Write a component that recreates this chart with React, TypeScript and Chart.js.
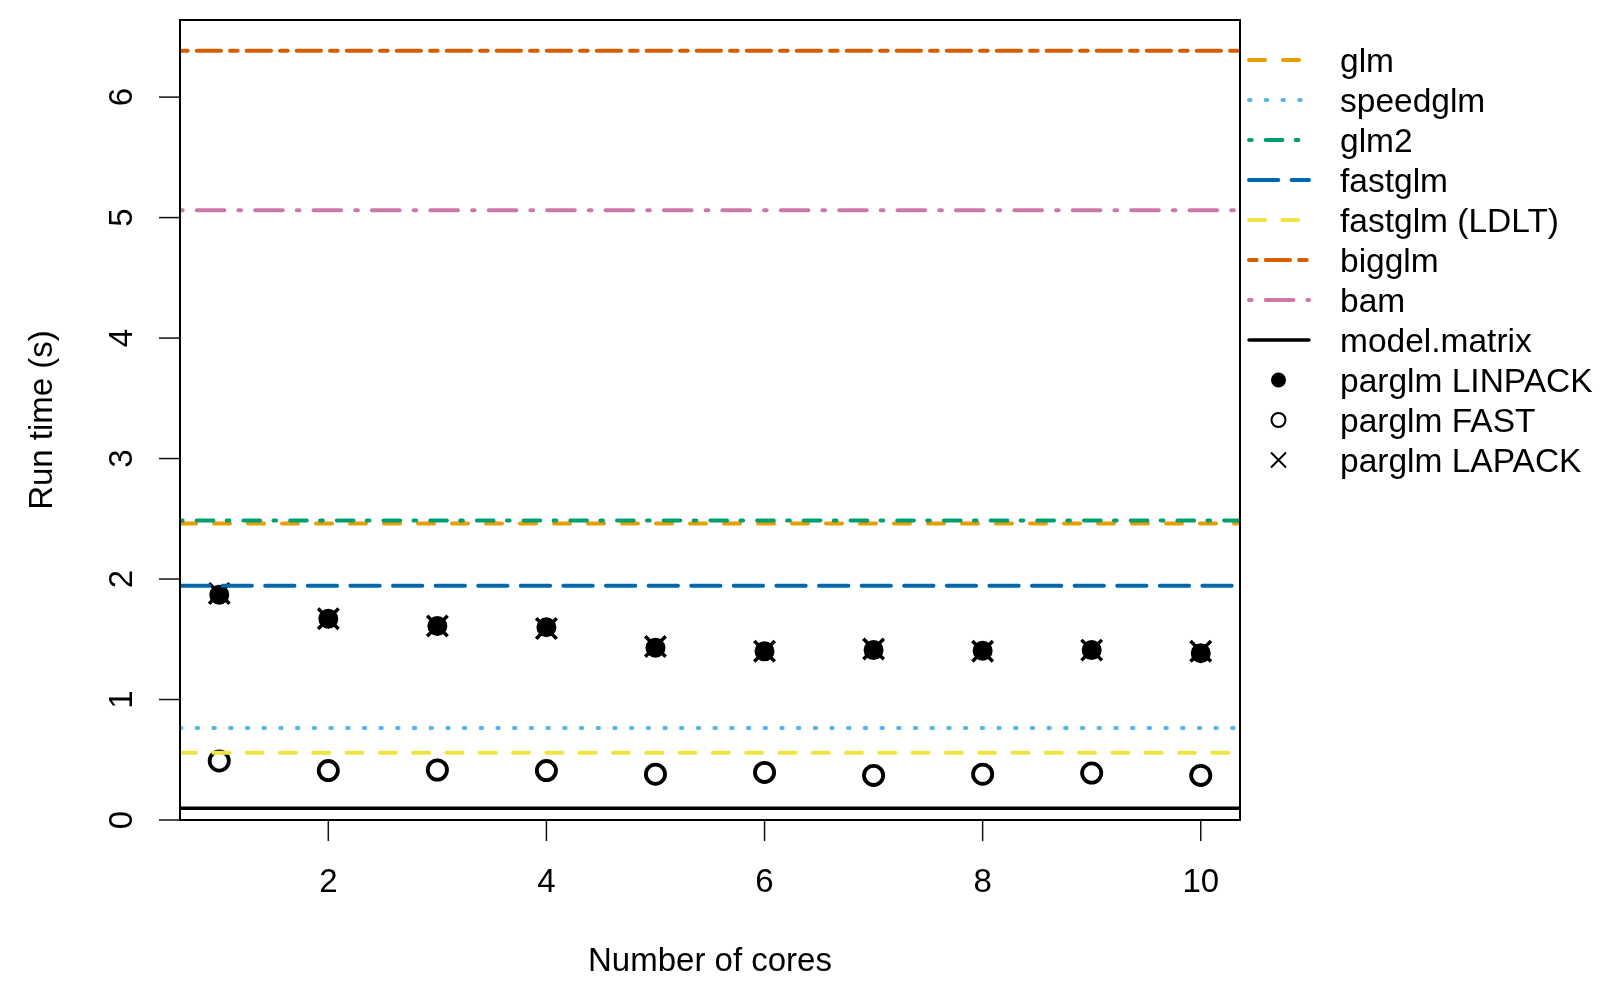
import React, { useEffect, useRef } from "react";
import { Chart, registerables } from "chart.js";

Chart.register(...registerables);

// ---------- data ----------
const cores = [1, 2, 3, 4, 5, 6, 7, 8, 9, 10];
const parglmLinpack = [1.87, 1.67, 1.61, 1.6, 1.43, 1.4, 1.41, 1.405, 1.41, 1.385];
const parglmLapack = [1.88, 1.67, 1.61, 1.59, 1.44, 1.4, 1.42, 1.4, 1.41, 1.4];
const parglmFast = [0.49, 0.41, 0.415, 0.41, 0.38, 0.395, 0.37, 0.38, 0.39, 0.37];

const refNames = ["glm", "speedglm", "glm2", "fastglm", "fastglm (LDLT)", "bigglm", "bam", "model.matrix"];
const refTimes = [2.46, 0.763, 2.486, 1.944, 0.559, 6.384, 5.06, 0.097];
const refColors = ["#E69F00", "#56B4E9", "#009E73", "#0068AC", "#F0E442", "#D55E00", "#CC79A7", "#000000"];
const refDashes: number[][] = [
  [16, 18],
  [1.5, 15.2],
  [2.7, 14, 16.7, 13.3],
  [29.3, 13.3],
  [16, 17.3],
  [7.7, 9, 24.3, 9],
  [2.7, 14, 27.7, 14],
  [],
];

const pointNames = ["parglm LINPACK", "parglm FAST", "parglm LAPACK"];

const xTicks = [2, 4, 6, 8, 10];
const yTicks = [0, 1, 2, 3, 4, 5, 6];
const xRange = [0.64, 10.36];
const yRange = [0, 6.64];
const xTitle = "Number of cores";
const yTitle = "Run time (s)";

const FONT = '"Liberation Sans", Arial, Helvetica, sans-serif';

export default function App() {
  const ref = useRef<HTMLCanvasElement | null>(null);

  useEffect(() => {
    const canvas = ref.current;
    if (!canvas) return;

    const lineSets = refNames.map((name, i) => ({
      type: "line" as const,
      label: name,
      data: [
        { x: xRange[0], y: refTimes[i] },
        { x: xRange[1], y: refTimes[i] },
      ],
      borderColor: refColors[i],
      borderWidth: i === 7 ? 3.5 : 4,
      borderDash: refDashes[i],
      borderCapStyle: "round" as const,
      pointRadius: 0,
      fill: false,
      order: 20 - i,
    }));

    const toPts = (arr: number[]) => cores.map((c, i) => ({ x: c, y: arr[i] }));

    const pointSets = [
      {
        type: "scatter" as const,
        label: pointNames[0],
        data: toPts(parglmLinpack),
        pointStyle: "circle",
        pointRadius: 9,
        pointBorderWidth: 2,
        pointBackgroundColor: "#000",
        pointBorderColor: "#000",
        showLine: false,
        order: 103,
      },
      {
        type: "scatter" as const,
        label: pointNames[1],
        data: toPts(parglmFast),
        pointStyle: "circle",
        pointRadius: 9.6,
        pointBorderWidth: 3.8,
        pointBackgroundColor: "rgba(0,0,0,0)",
        pointBorderColor: "#000",
        showLine: false,
        order: 102,
      },
      {
        type: "scatter" as const,
        label: pointNames[2],
        data: toPts(parglmLapack),
        pointStyle: "crossRot",
        pointRadius: 14.5,
        pointBorderWidth: 3.5,
        pointBackgroundColor: "#000",
        pointBorderColor: "#000",
        showLine: false,
        order: 101,
      },
    ];

    const decor = {
      id: "decor",
      afterDraw(chart: any) {
        const ctx = chart.ctx as CanvasRenderingContext2D;
        const { left, right, top, bottom } = chart.chartArea;
        const xs = chart.scales.x;
        const ys = chart.scales.y;
        ctx.save();
        // box
        ctx.setLineDash([]);
        ctx.strokeStyle = "#000";
        ctx.lineWidth = 2;
        ctx.strokeRect(left, top, right - left, bottom - top);
        // ticks
        ctx.lineWidth = 1.5;
        ctx.strokeStyle = "#111";
        xTicks.forEach((v) => {
          const px = xs.getPixelForValue(v);
          ctx.beginPath();
          ctx.moveTo(px, bottom);
          ctx.lineTo(px, bottom + 21);
          ctx.stroke();
        });
        yTicks.forEach((v) => {
          const py = ys.getPixelForValue(v);
          ctx.beginPath();
          ctx.moveTo(left, py);
          ctx.lineTo(left - 21, py);
          ctx.stroke();
        });
        // tick labels
        ctx.fillStyle = "#000";
        ctx.font = `33px ${FONT}`;
        ctx.textAlign = "center";
        ctx.textBaseline = "alphabetic";
        xTicks.forEach((v) => {
          ctx.fillText(String(v), xs.getPixelForValue(v), bottom + 72);
        });
        yTicks.forEach((v) => {
          ctx.save();
          ctx.translate(left - 48.5, ys.getPixelForValue(v));
          ctx.rotate(-Math.PI / 2);
          ctx.fillText(String(v), 0, 0);
          ctx.restore();
        });
        // titles
        ctx.fillText(xTitle, (left + right) / 2, bottom + 151);
        ctx.save();
        ctx.translate(left - 128.5, (top + bottom) / 2);
        ctx.rotate(-Math.PI / 2);
        ctx.fillText(yTitle, 0, 0);
        ctx.restore();

        // legend
        const lx0 = right + 9;
        const lx1 = right + 69;
        const symX = right + 38.5;
        const textX = right + 100;
        const rowY = (i: number) => top + 40 + 40 * i;
        ctx.font = `33.5px ${FONT}`;
        ctx.textAlign = "left";
        refNames.forEach((name, i) => {
          const y = rowY(i);
          ctx.save();
          ctx.strokeStyle = refColors[i];
          ctx.lineWidth = i === 7 ? 3.5 : 4;
          ctx.lineCap = "round";
          ctx.setLineDash(refDashes[i]);
          ctx.beginPath();
          ctx.moveTo(lx0, y);
          ctx.lineTo(lx1, y);
          ctx.stroke();
          ctx.restore();
          ctx.fillText(name, textX, y + 12);
        });
        pointNames.forEach((name, j) => {
          const i = refNames.length + j;
          const y = rowY(i);
          ctx.save();
          ctx.setLineDash([]);
          ctx.strokeStyle = "#000";
          ctx.fillStyle = "#000";
          if (j === 0) {
            ctx.beginPath();
            ctx.arc(symX, y, 7.5, 0, Math.PI * 2);
            ctx.fill();
          } else if (j === 1) {
            ctx.lineWidth = 2;
            ctx.beginPath();
            ctx.arc(symX, y, 7, 0, Math.PI * 2);
            ctx.stroke();
          } else {
            ctx.lineWidth = 2;
            const d = 7.5;
            ctx.beginPath();
            ctx.moveTo(symX - d, y - d);
            ctx.lineTo(symX + d, y + d);
            ctx.moveTo(symX - d, y + d);
            ctx.lineTo(symX + d, y - d);
            ctx.stroke();
          }
          ctx.restore();
          ctx.fillText(name, textX, y + 12);
        });
        ctx.restore();
      },
    };

    const chart = new Chart(canvas, {
      type: "scatter",
      data: { datasets: [...lineSets, ...pointSets] as any },
      options: {
        animation: false,
        responsive: false,
        maintainAspectRatio: false,
        devicePixelRatio: 1,
        layout: { padding: { left: 180, right: 360, top: 20, bottom: 180 } },
        plugins: { legend: { display: false }, tooltip: { enabled: false } },
        scales: {
          x: { type: "linear", min: xRange[0], max: xRange[1], display: false },
          y: { type: "linear", min: yRange[0], max: yRange[1], display: false },
        },
      },
      plugins: [decor],
    });

    return () => chart.destroy();
  }, []);

  return (
    <div style={{ position: "absolute", left: 0, top: 0, width: 1600, height: 1000, background: "#fff" }}>
      <canvas ref={ref} width={1600} height={1000} style={{ width: 1600, height: 1000, display: "block" }} />
    </div>
  );
}
